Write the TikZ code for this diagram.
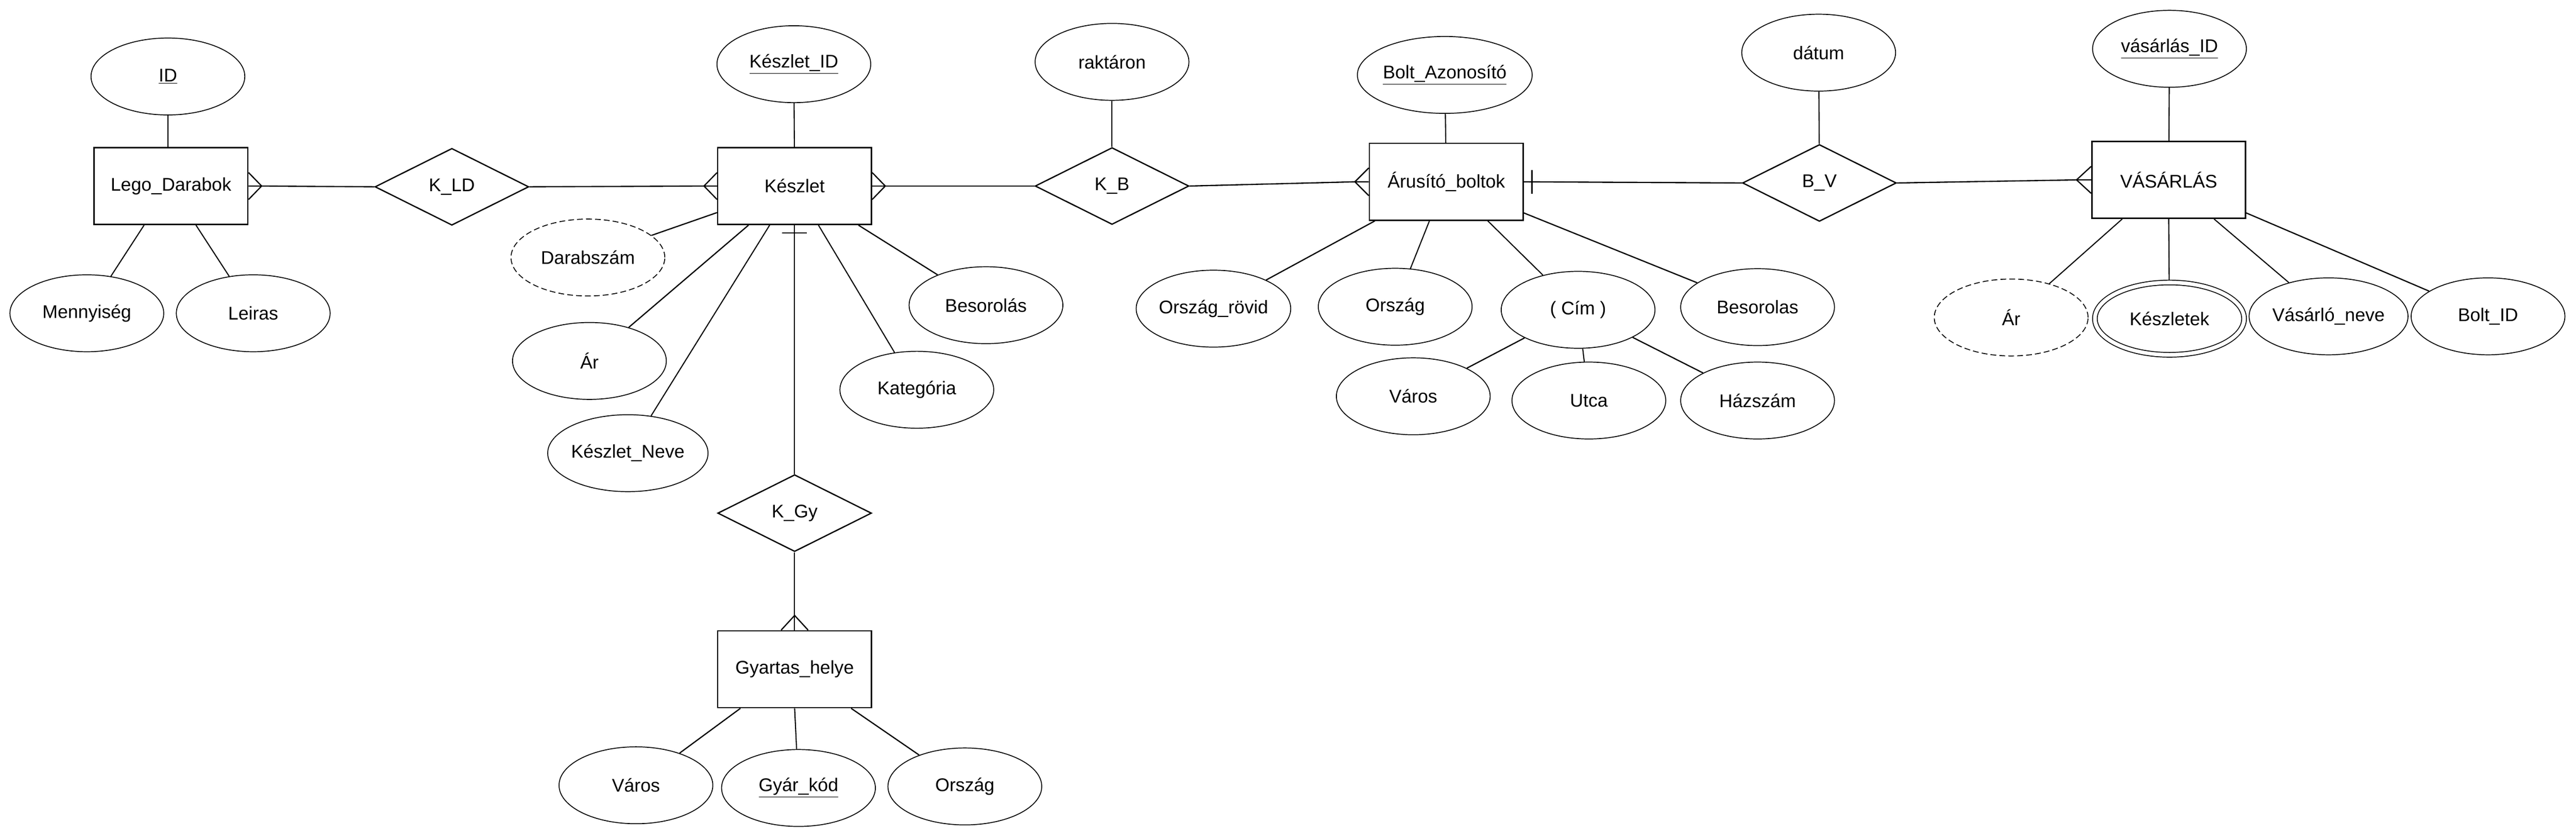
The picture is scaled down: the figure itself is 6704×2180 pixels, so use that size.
\documentclass[tikz,border=0pt]{standalone}
\usepackage{fontspec}
\setmainfont{Liberation Sans}
\usetikzlibrary{shapes.geometric,calc}
\begin{document}
\begin{tikzpicture}[x=0.01cm,y=-0.01cm,
  font=\fontsize{13.6}{16}\selectfont,
  ent/.style={draw,rectangle,line width=1pt,minimum width=4cm,minimum height=2cm,inner sep=0pt},
  rel/.style={draw,diamond,aspect=2,line width=0.95pt,minimum width=4cm,minimum height=2cm,inner sep=0pt},
  att/.style={draw,ellipse,line width=0.65pt,minimum width=4cm,minimum height=2cm,inner sep=0pt},
  deriv/.style={att,dash pattern=on 4.3pt off 2.3pt},
  multiv/.style={att,double,double distance=2.8pt,minimum width=3.88cm,minimum height=1.88cm},
  rl/.style={line width=0.9pt},
  al/.style={line width=0.8pt}]
\useasboundingbox (0,0) rectangle (6704,2180);

% entities
\node[ent] (lego) at (445,484) {Lego\_Darabok};
\node[ent] (keszlet) at (2068,484) {Készlet};
\node[ent] (arusito) at (3764,473) {Árusító\_boltok};
\node[ent] (vasarlas) at (5644,468) {VÁSÁRLÁS};
\node[ent] (gyartas) at (2068,1741) {Gyartas\_helye};

% relationships
\node[rel] (kld) at (1176,486) {K\_LD};
\node[rel] (kb) at (2894,484) {K\_B};
\node[rel] (bv) at (4735,476) {B\_V};
\node[rel] (kgy) at (2068,1335) {K\_Gy};

% attributes
\node[att] (id) at (437,199) {\underline{ID}};
\node[att] (mennyiseg) at (226,815) {Mennyiség};
\node[att] (leiras) at (659,815) {Leiras};
\node[att] (keszletid) at (2066,167) {\underline{Készlet\_ID}};
\node[deriv] (darabszam) at (1530,670) {Darabszám};
\node[att] (ar1) at (1534,939) {Ár};
\node[att] (keszletneve) at (1634,1179) {Készlet\_Neve};
\node[att] (kategoria) at (2386,1014) {Kategória};
\node[att] (besorolas1) at (2566,794) {Besorolás};
\node[att] (raktaron) at (2894,161) {raktáron};
\node[att] (boltaz) at (3760,195) {\underline{Bolt\_Azonosító}};
\node[att] (orszagrovid) at (3158,803) {Ország\_rövid};
\node[att] (orszag1) at (3631,798) {Ország};
\node[att] (cim) at (4107,806) {( Cím )};
\node[att] (besorolas2) at (4574,799) {Besorolas};
\node[att] (varos1) at (3678,1031) {Város};
\node[att] (utca) at (4135,1042) {Utca};
\node[att] (hazszam) at (4574,1042) {Házszám};
\node[att] (datum) at (4733,137) {dátum};
\node[att] (vasid) at (5646,127) {\underline{vásárlás\_ID}};
\node[deriv] (ar2) at (5234,826) {Ár};
\node[multiv] (keszletek) at (5646,829) {Készletek};
\node[att] (vasarlo) at (6060,823) {Vásárló\_neve};
\node[att] (boltid) at (6475,823) {Bolt\_ID};
\node[att] (varos2) at (1655,2043) {Város};
\node[att] (gyarkod) at (2078,2050) {\underline{Gyár\_kód}};
\node[att] (orszag2) at (2511,2046) {Ország};

% attribute connectors
\draw[al] (id.south) -- (id.south |- lego.north);
\draw[al] ([xshift=-0.7cm]lego.south) -- (mennyiseg);
\draw[al] ([xshift=0.65cm]lego.south) -- (leiras);

\draw[al] (keszletid) -- (keszlet);
\draw[rl] ([yshift=-0.69cm]keszlet.west) -- (darabszam);
\draw[rl] ([xshift=-1.2cm]keszlet.south) -- (ar1);
\draw[al] ([xshift=-0.65cm]keszlet.south) -- (keszletneve);
\draw[al] ([xshift=0.62cm]keszlet.south) -- (kategoria);
\draw[rl] ([xshift=1.66cm]keszlet.south) -- (besorolas1);

\draw[al] (raktaron) -- (kb);
\draw[al] (boltaz) -- (arusito);
\draw[rl] ([xshift=-1.86cm]arusito.south) -- (orszagrovid);
\draw[al] ([xshift=-0.44cm]arusito.south) -- (orszag1);
\draw[al] ([xshift=1.08cm]arusito.south) -- (cim);
\draw[rl] ([yshift=-0.81cm]arusito.east) -- (besorolas2);
\draw[rl] (cim) -- (varos1);
\draw[al] (cim) -- (utca);
\draw[rl] (cim) -- (hazszam);

\draw[al] (datum) -- (bv);
\draw[al] (vasid) -- (vasarlas);
\draw[al] ([xshift=-1.21cm]vasarlas.south) -- (ar2);
\draw[al,shorten >=0.06cm] (vasarlas.south) -- (keszletek);
\draw[al] ([xshift=1.18cm]vasarlas.south) -- (vasarlo);
\draw[rl] ([yshift=-0.86cm]vasarlas.east) -- (boltid);

\draw[rl] ([xshift=-1.41cm]gyartas.south) -- (varos2);
\draw[al] (gyartas.south) -- (gyarkod);
\draw[rl] ([xshift=1.47cm]gyartas.south) -- (orszag2);

% relationship connectors
% Lego -- K_LD (many at Lego)
\coordinate (c1) at ([xshift=0.34cm]lego.east);
\draw[rl] (lego.east) -- (c1) -- (kld.west);
\draw[rl] ([yshift=0.35cm]lego.east) -- (c1) -- ([yshift=-0.35cm]lego.east);
% K_LD -- Keszlet (many at Keszlet)
\coordinate (c2) at ([xshift=-0.34cm]keszlet.west);
\draw[rl] (kld.east) -- (c2) -- (keszlet.west);
\draw[rl] ([yshift=0.35cm]keszlet.west) -- (c2) -- ([yshift=-0.35cm]keszlet.west);
% Keszlet -- K_B (many at Keszlet)
\coordinate (c3) at ([xshift=0.34cm]keszlet.east);
\draw[rl] (keszlet.east) -- (c3) -- (kb.west);
\draw[rl] ([yshift=0.35cm]keszlet.east) -- (c3) -- ([yshift=-0.35cm]keszlet.east);
% K_B -- Arusito (many at Arusito)
\coordinate (c4) at ([xshift=-0.36cm]arusito.west);
\draw[rl] (kb.east) -- (c4) -- (arusito.west);
\draw[rl] ([yshift=0.36cm]arusito.west) -- (c4) -- ([yshift=-0.36cm]arusito.west);
% Arusito -- B_V (one at Arusito)
\coordinate (c5) at ([xshift=0.21cm]arusito.east);
\draw[rl] (arusito.east) -- (bv.west);
\draw[rl] ([yshift=0.31cm]c5) -- ([yshift=-0.31cm]c5);
% B_V -- Vasarlas (many at Vasarlas)
\coordinate (c6) at ([xshift=-0.38cm]vasarlas.west);
\draw[rl] (bv.east) -- (c6) -- (vasarlas.west);
\draw[rl] ([yshift=0.35cm]vasarlas.west) -- (c6) -- ([yshift=-0.35cm]vasarlas.west);
% Keszlet -- K_Gy (one at Keszlet)
\coordinate (c7) at ([yshift=-0.2cm]keszlet.south);
\draw[al] (keszlet.south) -- (kgy.north);
\draw[rl] ([xshift=-0.32cm]c7) -- ([xshift=0.32cm]c7);
% K_Gy -- Gyartas (many at Gyartas)
\coordinate (c8) at ([yshift=0.38cm]gyartas.north);
\draw[al] (kgy.south) -- (c8) -- (gyartas.north);
\draw[rl] ([xshift=-0.35cm]gyartas.north) -- (c8) -- ([xshift=0.35cm]gyartas.north);
\end{tikzpicture}
\end{document}
